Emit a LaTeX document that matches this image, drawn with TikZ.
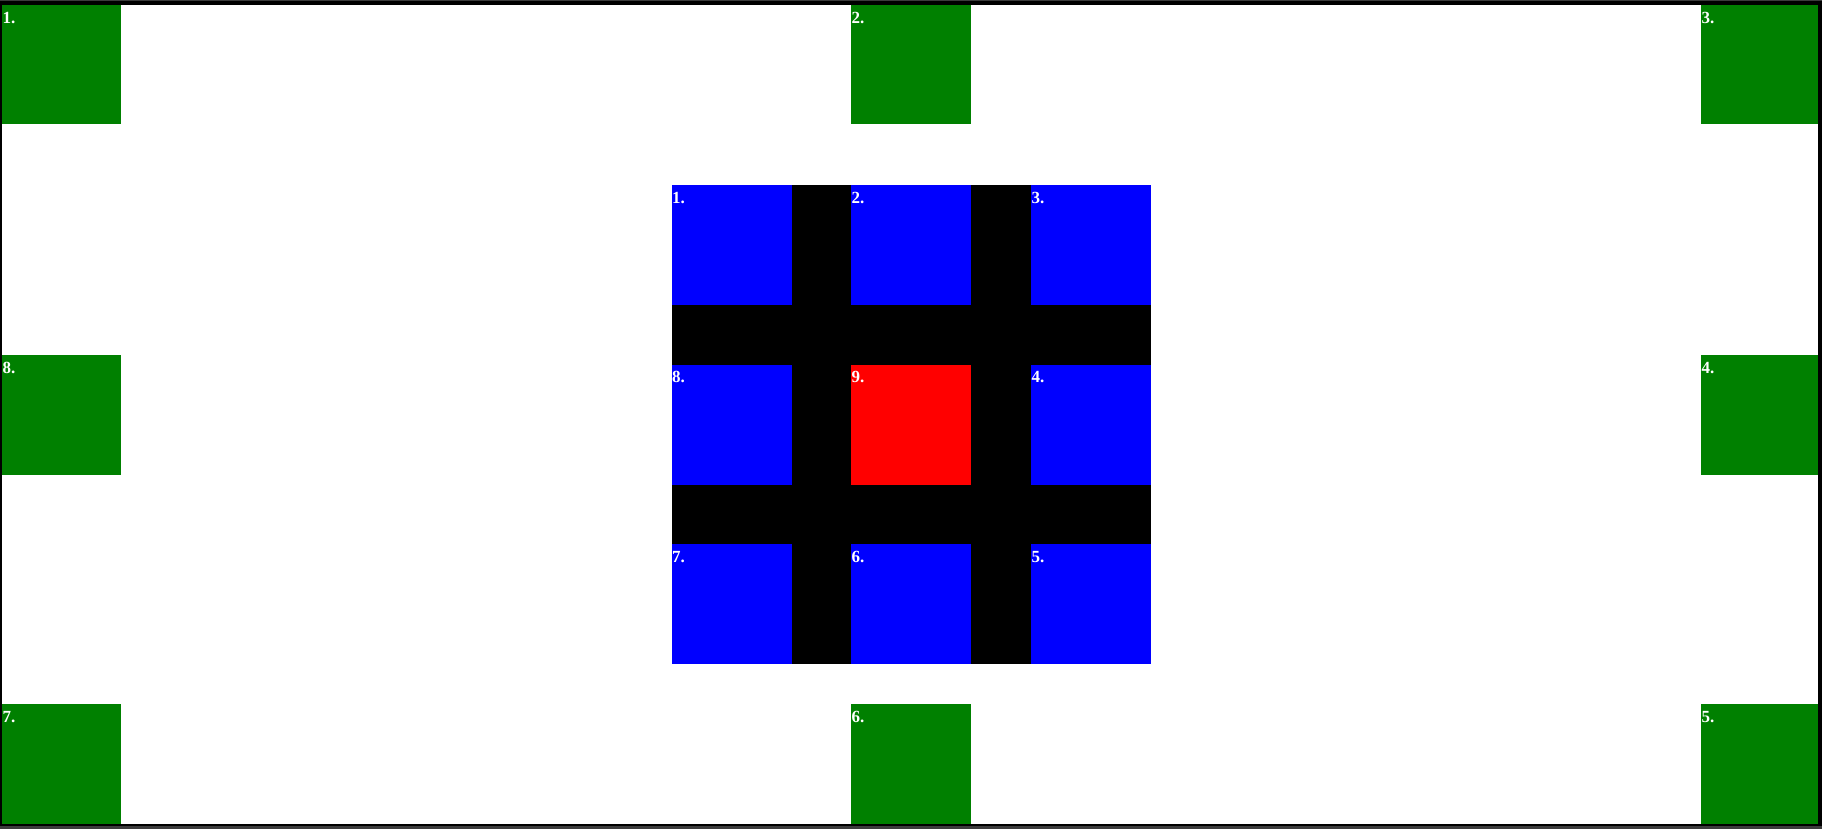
\documentclass[tikz,border=0pt]{standalone}
\usepackage{fontspec}
\setmainfont{Liberation Serif}
\usetikzlibrary{calc}
\definecolor{tgreen}{HTML}{008000}
\definecolor{tblue}{HTML}{0000FF}
\definecolor{tred}{HTML}{FF0000}
\definecolor{framegray}{HTML}{3C3C3C}
\newcommand\celllabel[2]{\node[lbltext] at ($(#1.north west)+(0.5,18.3)$) {#2.};}
\begin{document}
\begin{tikzpicture}[x=1pt,y=-1pt,
  box/.style={rectangle,inner sep=0pt,outer sep=0pt,draw=none,anchor=north west,minimum height=120pt},
  gbox/.style={box,fill=tgreen,minimum width=#1},
  gbox/.default=119pt,
  bbox/.style={box,fill=tblue,minimum width=120pt},
  rbox/.style={box,fill=tred,minimum width=120pt},
  lbltext/.style={anchor=base west,inner sep=0pt,outer sep=0pt,text=white,font=\fontsize{17}{20}\selectfont\bfseries}]
\useasboundingbox (0,0) rectangle (1822,829);
% frame
\fill[framegray] (0,0) rectangle (1822,829);
\fill[black] (0,1.5) rectangle (1822,826);
\fill[white] (2,5) rectangle (1818,824);
% outer green squares
\node[gbox,minimum height=119.5pt] (g1) at (2,5) {};
\node[gbox=120pt,minimum height=119.5pt] (g2) at (851,5) {};
\node[gbox=117pt,minimum height=119.5pt] (g3) at (1701,5) {};
\node[gbox=117pt] (g4) at (1701,355) {};
\node[gbox=117pt] (g5) at (1701,704) {};
\node[gbox=120pt] (g6) at (851,704) {};
\node[gbox] (g7) at (2,704) {};
\node[gbox] (g8) at (2,355) {};
% central grid
\node[box,fill=black,minimum width=479.5pt,minimum height=479pt] (grid) at (671.5,185) {};
\node[bbox] (b1) at (671.5,185) {};
\node[bbox] (b2) at (851,185) {};
\node[bbox] (b3) at (1031,185) {};
\node[bbox] (b8) at (671.5,364.5) {};
\node[rbox] (b9) at (851,364.5) {};
\node[bbox] (b4) at (1031,364.5) {};
\node[bbox] (b7) at (671.5,544) {};
\node[bbox] (b6) at (851,544) {};
\node[bbox] (b5) at (1031,544) {};
% labels
\celllabel{g1}{1}
\celllabel{g2}{2}
\celllabel{g3}{3}
\celllabel{g4}{4}
\celllabel{g5}{5}
\celllabel{g6}{6}
\celllabel{g7}{7}
\celllabel{g8}{8}
\celllabel{b1}{1}
\celllabel{b2}{2}
\celllabel{b3}{3}
\celllabel{b4}{4}
\celllabel{b5}{5}
\celllabel{b6}{6}
\celllabel{b7}{7}
\celllabel{b8}{8}
\celllabel{b9}{9}
\end{tikzpicture}
\end{document}
